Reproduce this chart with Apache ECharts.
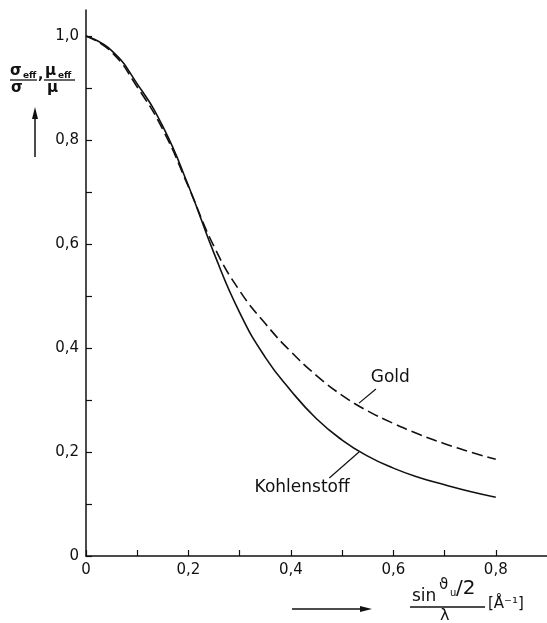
<!DOCTYPE html>
<html>
<head>
<meta charset="utf-8">
<script src="https://cdn.jsdelivr.net/npm/echarts@6/dist/echarts.min.js"></script>
<style>
  html, body { margin: 0; padding: 0; background: #fff; }
  #chart { width: 547px; height: 623px; }
</style>
</head>
<body>
<div id="chart"></div>
<script>
// sin(theta/2)/lambda  [1/Angstrom]
const xValues = [0, 0.05, 0.1, 0.15, 0.2, 0.25, 0.3, 0.35, 0.4, 0.45, 0.5, 0.55, 0.6, 0.65, 0.7, 0.75, 0.8];
const kohlenstoff = [1.0, 0.972, 0.908, 0.826, 0.712, 0.582, 0.468, 0.382, 0.318, 0.264, 0.223, 0.192, 0.169, 0.151, 0.137, 0.124, 0.113];
const gold = [1.0, 0.969, 0.902, 0.82, 0.71, 0.595, 0.51, 0.447, 0.393, 0.347, 0.309, 0.279, 0.255, 0.234, 0.216, 0.2, 0.186];

const xTicks = [0, 0.1, 0.2, 0.3, 0.4, 0.5, 0.6, 0.7, 0.8];
const xLabels = [0, 0.2, 0.4, 0.6, 0.8];
const yTicks = [0, 0.1, 0.2, 0.3, 0.4, 0.5, 0.6, 0.7, 0.8, 0.9, 1.0];
const yLabels = [0, 0.2, 0.4, 0.6, 0.8, 1.0];

// curve annotations (data units)
const goldLeader = [[0.533, 0.294], [0.566, 0.321]];
const goldLabelAt = [0.594, 0.344];
const kohleLeader = [[0.533, 0.2], [0.475, 0.15]];
const kohleLabelAt = [0.422, 0.131];

const ink = '#111';
const fontFamily = 'DejaVu Sans';

const fmt = (v) => v === 0 ? '0' : v.toFixed(1).replace('.', ',');

const chart = echarts.init(document.getElementById('chart'));

function leader(pts) {
  return {
    silent: true,
    symbol: ['none', 'none'],
    lineStyle: { color: ink, width: 1.2, type: 'solid' },
    label: { show: false },
    data: [[{ coord: pts[0] }, { coord: pts[1] }]]
  };
}

function tag(text, at) {
  return {
    silent: true,
    symbol: 'circle',
    symbolSize: 0,
    label: {
      show: true,
      position: 'inside',
      formatter: text,
      color: ink,
      fontFamily,
      fontSize: 17
    },
    data: [{ coord: at }]
  };
}

const option = {
  animation: false,
  grid: { left: 86, right: 0, top: 10, bottom: 67 },
  xAxis: {
    type: 'value',
    min: 0,
    max: 0.9,
    axisLine: { show: true, onZero: false, lineStyle: { color: ink, width: 1.5 } },
    axisTick: { show: true, inside: true, length: 6, customValues: xTicks, lineStyle: { color: ink, width: 1.2 } },
    axisLabel: { customValues: xLabels, formatter: fmt, color: ink, fontFamily, fontSize: 15, margin: 7 },
    splitLine: { show: false }
  },
  yAxis: {
    type: 'value',
    min: 0,
    max: 1.05,
    axisLine: { show: true, onZero: false, lineStyle: { color: ink, width: 1.5 } },
    axisTick: { show: true, inside: true, length: 6, customValues: yTicks, lineStyle: { color: ink, width: 1.2 } },
    axisLabel: { customValues: yLabels, formatter: fmt, color: ink, fontFamily, fontSize: 15, margin: 7 },
    splitLine: { show: false }
  },
  series: [
    {
      name: 'Kohlenstoff',
      type: 'line',
      data: xValues.map((x, i) => [x, kohlenstoff[i]]),
      smooth: 0.5,
      showSymbol: false,
      lineStyle: { color: ink, width: 1.6 },
      markLine: leader(kohleLeader),
      markPoint: tag('Kohlenstoff', kohleLabelAt)
    },
    {
      name: 'Gold',
      type: 'line',
      data: xValues.map((x, i) => [x, gold[i]]),
      smooth: 0.5,
      showSymbol: false,
      lineStyle: { color: ink, width: 1.6, type: [11, 5] },
      markLine: leader(goldLeader),
      markPoint: tag('Gold', goldLabelAt)
    }
  ],
  graphic: [
    // y axis title: sigma_eff / sigma , mu_eff / mu
    { type: 'text', x: 10, y: 64, style: { text: 'σ', font: 'bold 15px DejaVu Sans', fill: ink } },
    { type: 'text', x: 23, y: 71, style: { text: 'eff', font: 'bold 9px DejaVu Sans', fill: ink } },
    { type: 'line', shape: { x1: 10, y1: 80, x2: 37, y2: 80 }, style: { stroke: ink, lineWidth: 1.3 } },
    { type: 'text', x: 11, y: 81, style: { text: 'σ', font: 'bold 15px DejaVu Sans', fill: ink } },
    { type: 'text', x: 38, y: 68, style: { text: ',', font: 'bold 14px DejaVu Sans', fill: ink } },
    { type: 'text', x: 45, y: 64, style: { text: 'μ', font: 'bold 15px DejaVu Sans', fill: ink } },
    { type: 'text', x: 58, y: 71, style: { text: 'eff', font: 'bold 9px DejaVu Sans', fill: ink } },
    { type: 'line', shape: { x1: 44, y1: 80, x2: 75, y2: 80 }, style: { stroke: ink, lineWidth: 1.3 } },
    { type: 'text', x: 47, y: 81, style: { text: 'μ', font: 'bold 15px DejaVu Sans', fill: ink } },
    { type: 'line', shape: { x1: 35, y1: 157, x2: 35, y2: 114 }, style: { stroke: ink, lineWidth: 1.5 } },
    { type: 'polygon', shape: { points: [[35, 107], [32, 119], [38, 119]] }, style: { fill: ink } },
    // x axis title: sin(theta_u/2) / lambda [A^-1]
    { type: 'line', shape: { x1: 292, y1: 609, x2: 362, y2: 609 }, style: { stroke: ink, lineWidth: 1.5 } },
    { type: 'polygon', shape: { points: [[372, 609], [360, 606], [360, 612]] }, style: { fill: ink } },
    { type: 'text', x: 412, y: 588, style: { text: 'sin', font: '17px DejaVu Sans', fill: ink } },
    { type: 'text', x: 439, y: 578, style: { text: 'ϑ', font: '15px DejaVu Sans', fill: ink } },
    { type: 'text', x: 450, y: 588, style: { text: 'u', font: '10px DejaVu Sans', fill: ink } },
    { type: 'text', x: 456, y: 579, style: { text: '/2', font: '20px DejaVu Sans', fill: ink } },
    { type: 'line', shape: { x1: 410, y1: 607, x2: 485, y2: 607 }, style: { stroke: ink, lineWidth: 1.3 } },
    { type: 'text', x: 440, y: 608, style: { text: 'λ', font: '16px DejaVu Sans', fill: ink } },
    { type: 'text', x: 488, y: 597, style: { text: '[Å⁻¹]', font: '15px DejaVu Sans', fill: ink } }
  ]
};

chart.setOption(option);
</script>
</body>
</html>
